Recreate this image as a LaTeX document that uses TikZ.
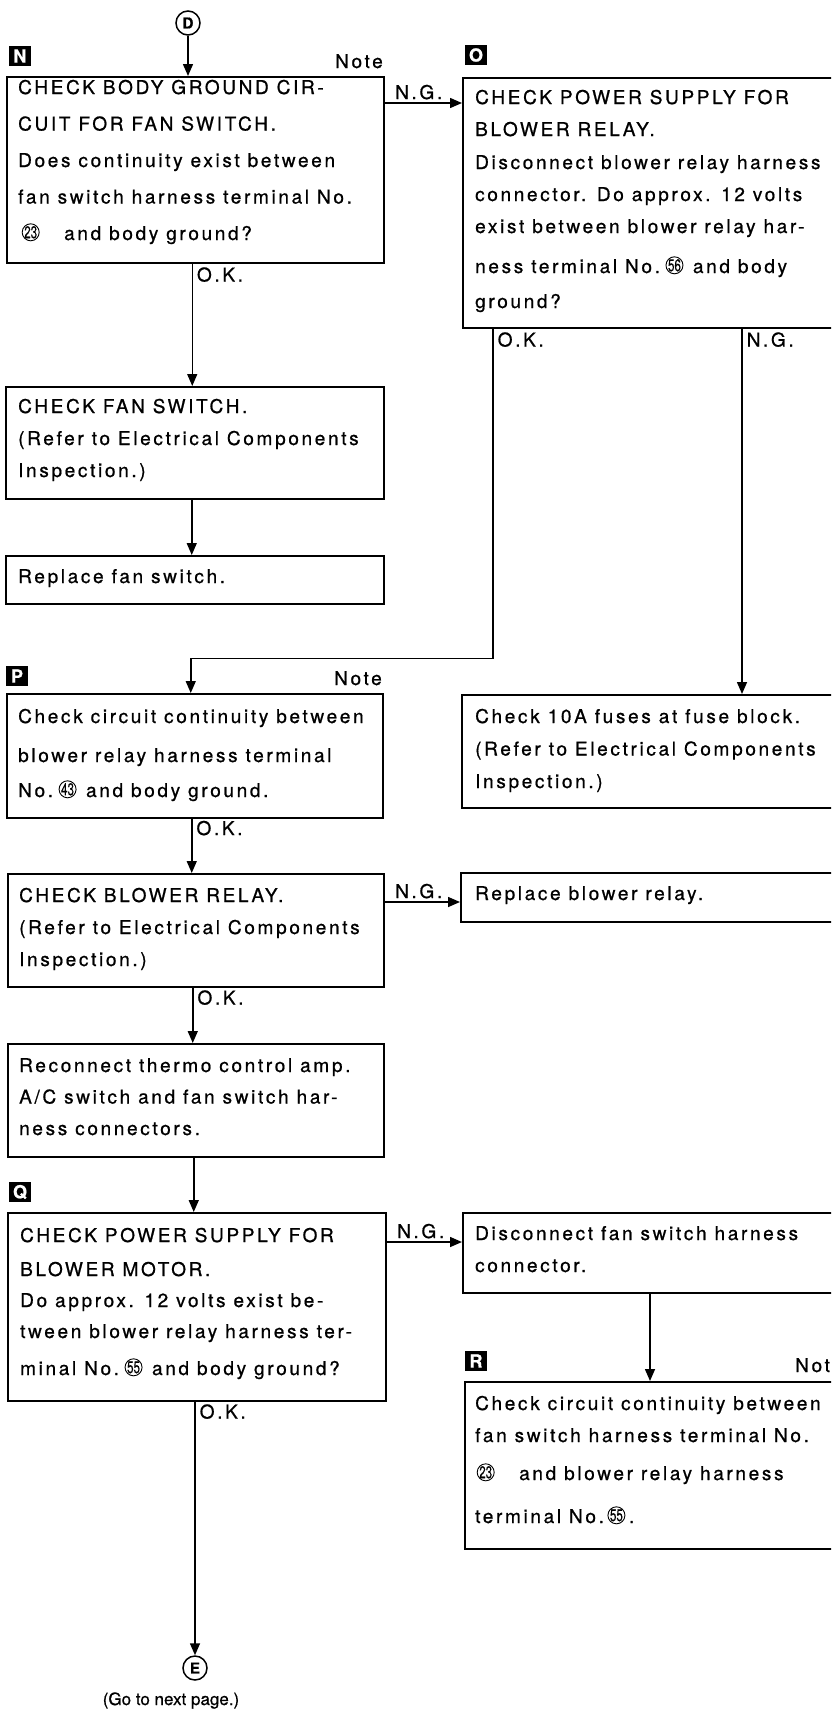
\documentclass[tikz,border=0pt]{standalone}
\usepackage{fontspec}
\usepackage{graphicx}
\usepackage{pict2e}
\setmainfont{TeX Gyre Heros}[LetterSpace=14, FakeBold=0.8]
\newfontfamily\plainsans{TeX Gyre Heros}[FakeBold=0.6]
\usetikzlibrary{arrows.meta}

% circled terminal number, drawn with picture mode
\newcommand\cn[1]{{\setlength{\unitlength}{1pt}\begin{picture}(17,16)%
  \linethickness{0.9pt}\put(8.5,7.7){\circle{17}}%
  \put(8.5,7.7){\makebox(0,0){\plainsans\fontsize{17}{17}\selectfont\scalebox{0.68}[1]{#1}}}%
  \end{picture}}}

\tikzset{
  box/.style={draw, line width=1.5pt, anchor=north west, inner sep=0pt},
  txt/.style={inner sep=0pt, anchor=base west, align=left},
  lbl/.style={inner sep=0pt, font=\fontsize{19}{19}\selectfont},
  tag/.style={fill=black, text=white, inner sep=0pt, minimum width=22pt, minimum height=20pt,
    font=\plainsans\bfseries\fontsize{18}{18}\selectfont},
  cir/.style={circle, draw, line width=1.5pt, minimum size=24pt, inner sep=0pt,
    font=\plainsans\bfseries\fontsize{15}{15}\selectfont},
  arr/.style={line width=1.5pt, -{Triangle[length=12pt,width=10pt]}},
  okl/.style={lbl, anchor=base west, xshift=4pt, yshift=-18pt},
  ngl/.style={lbl, anchor=base west, xshift=10pt, yshift=4pt}
}
\newcommand\bs[1]{\fontsize{19}{#1}\selectfont}

\begin{document}
\begin{tikzpicture}[x=1pt,y=-1pt]
\useasboundingbox (0,0) rectangle (831,1711);
\clip (0,0) rectangle (831,1711);

% entry point
\node[cir] (D) at (188,23) {D};

% step boxes
\node[box, minimum width=377pt, minimum height=186pt] (N) at (6,76) {};
\node[box, minimum width=440pt, minimum height=250pt] (O) at (462,77) {};
\node[box, minimum width=378pt, minimum height=112pt] (F) at (5,386) {};
\node[box, minimum width=378pt, minimum height=48pt] (RF) at (5,555) {};
\node[box, minimum width=376pt, minimum height=124pt] (P) at (6,693) {};
\node[box, minimum width=440pt, minimum height=113pt] (FU) at (461,694) {};
\node[box, minimum width=376pt, minimum height=113pt] (CB) at (7,873) {};
\node[box, minimum width=440pt, minimum height=49pt] (RB) at (460,872) {};
\node[box, minimum width=376pt, minimum height=113pt] (RC) at (7,1043) {};
\node[box, minimum width=378pt, minimum height=188pt] (Q) at (7,1212) {};
\node[box, minimum width=440pt, minimum height=80pt] (DC) at (462,1212) {};
\node[box, minimum width=440pt, minimum height=167pt] (R) at (464,1381) {};

% step tags and notes
\node[tag] (tN) at (20,56) {N};
\node[tag] (tO) at (476,55) {O};
\node[tag] (tP) at (17,676) {P};
\node[tag] (tQ) at (20,1192) {Q};
\node[tag] (tR) at (476,1361) {R};
\node[lbl, anchor=base east] (noteN) at (383,68) {Note};
\node[lbl, anchor=base east] (noteP) at (382,685) {Note};
\node[lbl, anchor=base west] (noteR) at (795,1372) {Note};

% box texts (each placed by the baseline of its last line)
\node[txt, font=\bs{36.5}] (Nt) at (18,240) {CHECK BODY GROUND CIR-\\CUIT FOR FAN SWITCH.\\Does continuity exist between\\fan switch harness terminal No.\\\hspace*{4pt}\cn{23}\hspace{25pt}and body ground?};
\node[txt, font=\bs{32}] (Ot) at (475,308) {CHECK POWER SUPPLY FOR\\BLOWER RELAY.\\[1pt]Disconnect blower relay harness\\connector. Do approx. 12 volts\\exist between blower relay har-\\[8pt]ness terminal No.\hspace{6pt}\cn{56}\hspace{10pt}and body\\[3pt]ground?};
\node[txt, font=\bs{32}] (Ft) at (18,477) {CHECK FAN SWITCH.\\(Refer to Electrical Components\\Inspection.)};
\node[txt, font=\bs{32}] (RFt) at (18,583) {Replace fan switch.};
\node[txt, font=\bs{35}] (Pt) at (18,797) {Check circuit continuity between\\[4pt]blower relay harness terminal\\No.\hspace{6pt}\cn{43}\hspace{10pt}and body ground.};
\node[txt, font=\bs{32.5}] (FUt) at (475,788) {Check 10A fuses at fuse block.\\(Refer to Electrical Components\\Inspection.)};
\node[txt, font=\bs{32}] (CBt) at (19,966) {CHECK BLOWER RELAY.\\(Refer to Electrical Components\\Inspection.)};
\node[txt, font=\bs{32}] (RBt) at (475,900) {Replace blower relay.};
\node[txt, font=\bs{31.5}] (RCt) at (19,1135) {Reconnect thermo control amp.\\A/C switch and fan switch har-\\ness connectors.};
\node[txt, font=\bs{31}] (Qt) at (20,1375) {CHECK POWER SUPPLY FOR\\[3pt]BLOWER MOTOR.\\Do approx. 12 volts exist be-\\tween blower relay harness ter-\\[6pt]minal No.\hspace{6pt}\cn{55}\hspace{10pt}and body ground?};
\node[txt, font=\bs{32}] (DCt) at (475,1272) {Disconnect fan switch harness\\connector.};
\node[txt, font=\bs{32}] (Rt) at (475,1523) {Check circuit continuity between\\fan switch harness terminal No.\\[6pt]\hspace*{2pt}\cn{23}\hspace{25pt}and blower relay harness\\[11pt]terminal No.\hspace{4pt}\cn{55}\hspace{4pt}.};

% exit point
\node[cir] (E) at (195,1668) {E};
\node[font=\plainsans\fontsize{17}{17}\selectfont, anchor=base, inner sep=0pt] (next) at (171,1705) {(Go to next page.)};

% connectors
\draw[arr] (D.south) -- (D.south |- N.north);
\draw[arr] ([xshift=-3pt]N.south) node[okl] {O.K.} -- ([xshift=-3pt]N.south |- F.north);
\draw[arr] ([xshift=-3pt]F.south) -- ([xshift=-3pt]F.south |- RF.north);
\draw[arr] ([yshift=-27pt]N.north east) node[ngl] {N.G.} -- ([yshift=-27pt]N.north east -| O.west);
\draw[arr] ([xshift=31pt]O.south west) node[okl] {O.K.} -- ++(0,330) -| ([xshift=-4pt]P.north);
\draw[arr] ([xshift=280pt]O.south west) node[okl] {N.G.} -- ([xshift=280pt]O.south west |- FU.north);
\draw[arr] ([xshift=-3pt]P.south) node[okl, yshift=1.5pt] {O.K.} -- ([xshift=-3pt]P.south |- CB.north);
\draw[arr] ([yshift=-29pt]CB.north east) node[ngl] {N.G.} -- ([yshift=-29pt]CB.north east -| RB.west);
\draw[arr] ([xshift=-3pt]CB.south) node[okl, yshift=1pt] {O.K.} -- ([xshift=-3pt]CB.south |- RC.north);
\draw[arr] ([xshift=-2pt]RC.south) -- ([xshift=-2pt]RC.south |- Q.north);
\draw[arr] ([yshift=-30pt]Q.north east) node[ngl] {N.G.} -- ([yshift=-30pt]Q.north east -| DC.west);
\draw[arr] ([xshift=188pt]DC.south west) -- ([xshift=188pt]DC.south west |- R.north);
\draw[arr] (E.north |- Q.south) node[okl, yshift=1pt] {O.K.} -- (E.north);
\end{tikzpicture}
\end{document}
